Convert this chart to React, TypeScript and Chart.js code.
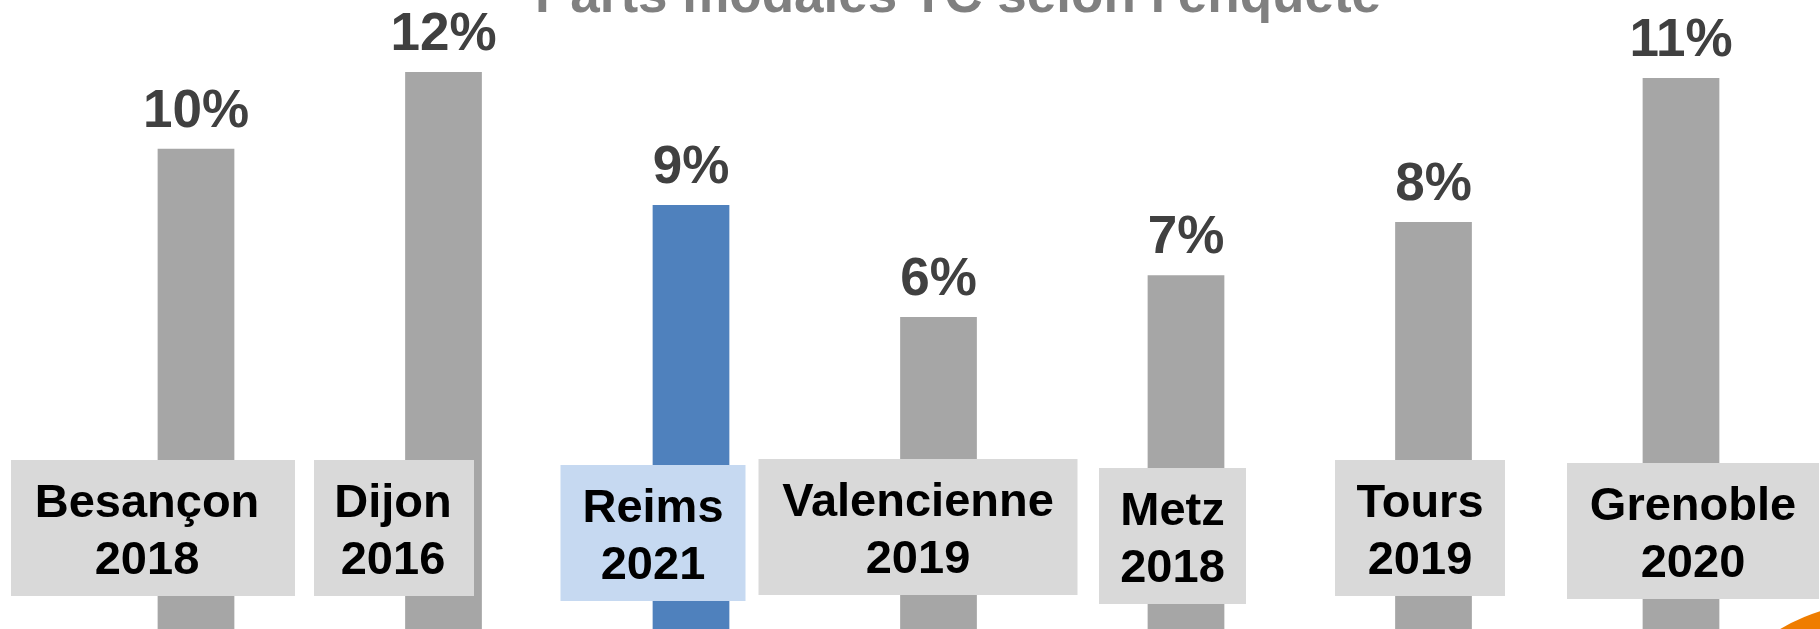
import React, { useEffect, useRef } from 'react';
import { Chart, registerables } from 'chart.js';

Chart.register(...registerables);

// ---- Data ----
const cities = ['Besançon', 'Dijon', 'Reims', 'Valencienne', 'Metz', 'Tours', 'Grenoble'];
const years = ['2018', '2016', '2021', '2019', '2018', '2019', '2020'];
const values = [9.965, 11.556, 8.797, 6.473, 7.338, 8.444, 11.43];
const highlighted = 'Reims';
const title = "Parts modales TC selon l'enquête";
const yMin = 0;
const yMax = 13.05;

// ---- Label box layout (offset from bar centre, top, width, text shift) ----
const boxLayout = [
  { dx: -43, top: 460, width: 284, tx: -6 },
  { dx: -49.5, top: 460, width: 160, tx: -1 },
  { dx: -38, top: 465, width: 185, tx: 0 },
  { dx: -20.5, top: 459, width: 319, tx: 0 },
  { dx: -13.5, top: 468, width: 147, tx: 0 },
  { dx: -13.5, top: 460, width: 170, tx: 0 },
  { dx: 12, top: 463, width: 252, tx: 0 },
];
const BOX_H = 136;
const FONT = '"Liberation Sans", Arial, Helvetica, sans-serif';

const overlayPlugin = {
  id: 'overlayPlugin',
  afterDatasetsDraw(chart: any) {
    const ctx = chart.ctx as CanvasRenderingContext2D;
    const meta = chart.getDatasetMeta(0);
    ctx.save();
    ctx.textAlign = 'center';
    ctx.textBaseline = 'alphabetic';

    // value labels
    ctx.font = `bold 53px ${FONT}`;
    ctx.fillStyle = '#404040';
    meta.data.forEach((bar: any, i: number) => {
      ctx.fillText(`${Math.round(values[i])}%`, bar.x, bar.y - 22);
    });

    // category boxes
    meta.data.forEach((bar: any, i: number) => {
      const b = boxLayout[i];
      const cx = bar.x + b.dx;
      ctx.fillStyle = cities[i] === highlighted ? '#c6d9f1' : '#d9d9d9';
      ctx.fillRect(cx - b.width / 2, b.top, b.width, BOX_H);
      ctx.fillStyle = '#000000';
      ctx.font = `bold 47px ${FONT}`;
      ctx.fillText(cities[i], cx + b.tx, b.top + 56.5);
      ctx.fillText(years[i], cx + b.tx, b.top + 113.5);
    });

    // title (cut at the top)
    ctx.font = `bold 53px ${FONT}`;
    ctx.fillStyle = '#808080';
    ctx.fillText(title, 958, 11.5);

    // orange decoration, bottom right
    ctx.beginPath();
    ctx.arc(1880, 800, 198, 0, Math.PI * 2);
    ctx.fillStyle = '#ef7d00';
    ctx.fill();

    ctx.restore();
  },
};

export default function App() {
  const canvasRef = useRef<HTMLCanvasElement | null>(null);

  useEffect(() => {
    document.body.style.margin = '0';
    const canvas = canvasRef.current;
    if (!canvas) return;
    const chart = new Chart(canvas, {
      type: 'bar',
      data: {
        labels: cities.map((c, i) => `${c} ${years[i]}`),
        datasets: [
          {
            data: values,
            backgroundColor: cities.map((c) => (c === highlighted ? '#4f81bd' : '#a6a6a6')),
            borderWidth: 0,
            barPercentage: 0.31,
            categoryPercentage: 1,
          },
        ],
      },
      options: {
        responsive: false,
        animation: false,
        devicePixelRatio: 1,
        layout: { padding: { left: 72.25, right: 15.25, top: 0, bottom: 0 } },
        scales: {
          x: { display: false },
          y: { display: false, min: yMin, max: yMax },
        },
        plugins: {
          legend: { display: false },
          tooltip: { enabled: false },
          title: { display: false },
        },
      },
      plugins: [overlayPlugin],
    });
    return () => chart.destroy();
  }, []);

  return (
    <div style={{ position: 'absolute', left: 0, top: 0, width: 1820, height: 629, background: '#ffffff' }}>
      <canvas ref={canvasRef} width={1820} height={629} style={{ width: 1820, height: 629, display: 'block' }} />
    </div>
  );
}
